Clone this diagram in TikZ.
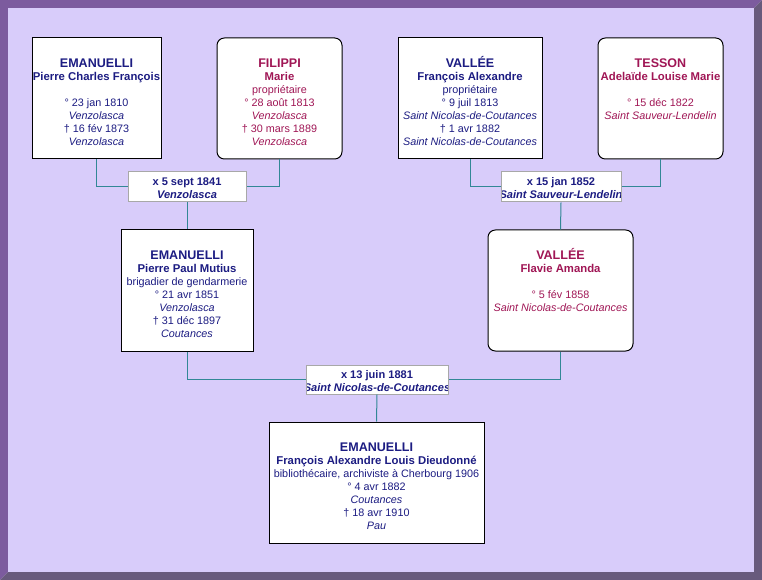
\documentclass[tikz,border=0pt]{standalone}
\usepackage{fontspec}
\setmainfont{Liberation Sans}
\definecolor{male}{RGB}{28,28,130}
\definecolor{female}{RGB}{160,22,85}
\definecolor{bgc}{RGB}{216,204,250}
\definecolor{frameA}{RGB}{124,91,158}
\definecolor{frameB}{RGB}{104,90,124}
\definecolor{linkc}{RGB}{50,135,150}
\definecolor{mborder}{RGB}{168,168,168}
\newcommand\pSurname[1]{{\fontsize{9.4}{9.75}\selectfont\bfseries #1}}
\newcommand\pGiven[1]{{\fontsize{8.5}{9.75}\selectfont\bfseries #1}}
\tikzset{
  sz/.style 2 args={minimum width=#1*0.75pt, minimum height=#2*0.75pt},
  manbox/.style={draw=black, line width=0.75pt, fill=white, inner sep=0pt},
  womanbox/.style={manbox, rounded corners=5.5pt},
  marbox/.style={draw=mborder, line width=0.75pt, fill=white, inner sep=0pt},
  link/.style={draw=linkc, line width=0.75pt},
  innertxt/.style={anchor=north, align=center, inner sep=0pt, minimum width=0pt, minimum height=0pt, draw=none, fill=none},
  ptxt/.style 2 args={path picture={\node[innertxt, text=#1,
      font=\fontsize{8.1}{9.75}\selectfont] at ([yshift=-12.75pt]path picture bounding box.north) {\rule{0pt}{9pt}#2};}},
  mtxt/.style={path picture={\node[innertxt, text=male,
      font=\fontsize{8.3}{9.5}\selectfont\bfseries] at ([yshift=-3.1pt]path picture bounding box.north) {\rule{0pt}{7pt}#1};}},
}
\begin{document}
\begin{tikzpicture}[x=0.75pt, y=-0.75pt]
\useasboundingbox (0,0) rectangle (762,580);
% frame
\fill[frameA] (0,0) -- (762,0) -- (754,8) -- (8,8) -- (8,572) -- (0,580) -- cycle;
\fill[frameB] (762,0) -- (762,580) -- (0,580) -- (8,572) -- (754,572) -- (754,8) -- cycle;
\fill[bgc] (8,8) rectangle (754,572);

% generation 1
\node[manbox, sz={129}{121}, ptxt={male}{\pSurname{EMANUELLI}\\ \pGiven{Pierre Charles François}\\[9.75pt] ° 23 jan 1810\\ \textit{Venzolasca}\\ † 16 fév 1873\\ \textit{Venzolasca}}] (A) at (96.5,98.5) {};
\node[womanbox, sz={125}{121}, ptxt={female}{\pSurname{FILIPPI}\\ \pGiven{Marie}\\ propriétaire\\ ° 28 août 1813\\ \textit{Venzolasca}\\ † 30 mars 1889\\ \textit{Venzolasca}}] (B) at (279.5,98.5) {};
\node[manbox, sz={144}{121}, ptxt={male}{\pSurname{VALLÉE}\\ \pGiven{François Alexandre}\\ propriétaire\\ ° 9 juil 1813\\ \textit{Saint Nicolas-de-Coutances}\\ † 1 avr 1882\\ \textit{Saint Nicolas-de-Coutances}}] (C) at (470,98.5) {};
\node[womanbox, sz={125}{121}, ptxt={female}{\pSurname{TESSON}\\ \pGiven{Adelaïde Louise Marie}\\[9.75pt] ° 15 déc 1822\\ \textit{Saint Sauveur-Lendelin}}] (D) at (660.5,98.5) {};

% marriages 1
\node[marbox, sz={118}{30}, mtxt={x 5 sept 1841\\ \textit{Venzolasca}}] (M1) at (187,187) {};
\node[marbox, sz={120}{30}, mtxt={x 15 jan 1852\\ \textit{Saint Sauveur-Lendelin}}] (M2) at (561,187) {};

% generation 2
\node[manbox, sz={132}{121}, ptxt={male}{\pSurname{EMANUELLI}\\ \pGiven{Pierre Paul Mutius}\\ brigadier de gendarmerie\\ ° 21 avr 1851\\ \textit{Venzolasca}\\ † 31 déc 1897\\ \textit{Coutances}}] (E) at (187,290.5) {};
\node[womanbox, sz={145}{121}, ptxt={female}{\pSurname{VALLÉE}\\ \pGiven{Flavie Amanda}\\[9.75pt] ° 5 fév 1858\\ \textit{Saint Nicolas-de-Coutances}}] (F) at (560.5,290.5) {};

% marriage 2
\node[marbox, sz={142}{29}, mtxt={x 13 juin 1881\\ \textit{Saint Nicolas-de-Coutances}}] (M3) at (377,379.5) {};

% generation 3
\node[manbox, sz={215}{121}, ptxt={male}{\pSurname{EMANUELLI}\\ \pGiven{François Alexandre Louis Dieudonné}\\ bibliothécaire, archiviste à Cherbourg 1906\\ ° 4 avr 1882\\ \textit{Coutances}\\ † 18 avr 1910\\ \textit{Pau}}] (G) at (376.5,482.5) {};

% connectors
\draw[link] (A.south) |- (M1.west);
\draw[link] (B.south) |- (M1.east);
\draw[link] (M1.south) -- (E.north);
\draw[link] (C.south) |- (M2.west);
\draw[link] (D.south) |- (M2.east);
\draw[link] (M2.south) -- (F.north);
\draw[link] (E.south) |- (M3.west);
\draw[link] (F.south) |- (M3.east);
\draw[link] (M3.south) -- (G.north);
\end{tikzpicture}
\end{document}
